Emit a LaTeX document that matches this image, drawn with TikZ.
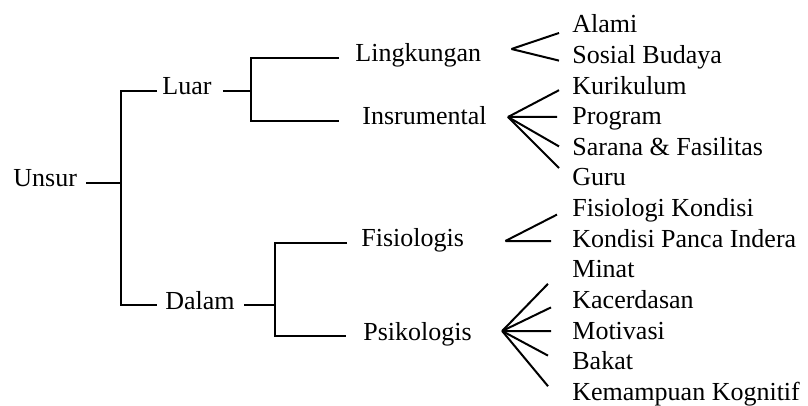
\documentclass[tikz,border=0pt]{standalone}
\usepackage{fontspec}
\setmainfont{Liberation Serif}
\begin{document}
\begin{tikzpicture}[x=0.5pt,y=-0.5pt,
	lbl/.style={anchor=base west,inner sep=0pt,text height=0.4em,text depth=0pt,
		font=\fontsize{13}{15}\selectfont},
	ln/.style={line width=1pt}]
	\useasboundingbox (0,0) rectangle (808,406);
	
	% left part of the tree
	\node[lbl] (unsur) at (13,187) {Unsur};
	\node[lbl] (luar) at (162,95) {Luar};
	\node[lbl] (dalam) at (165,309) {Dalam};
	\node[lbl] (ling) at (355,62) {Lingkungan};
	\node[lbl] (insr) at (362,125) {Insrumental};
	\node[lbl] (fisi) at (361,247) {Fisiologis};
	\node[lbl] (psik) at (363,340) {Psikologis};
	
	% right column
	\foreach \n/\t [count=\k from 0] in {alami/Alami, sosial/Sosial Budaya,
		kuri/Kurikulum, prog/Program, sarana/Sarana \& Fasilitas, guru/Guru,
		fkond/Fisiologi Kondisi, panca/Kondisi Panca Indera, minat/Minat,
		cerdas/Kacerdasan, motiv/Motivasi, bakat/Bakat, kogn/Kemampuan Kognitif}
	\node[lbl] (\n) at (572,33+30.6*\k) {\t};
	
	% brackets
	\coordinate (j1) at (121,183);
	\coordinate (j2) at (251,89);
	\coordinate (j3) at (275,300);
	\draw[ln] ([shift={(9,0)}]unsur.east) -- (unsur.east -| j1);
	\draw[ln] ([shift={(-5,0)}]luar.west) -| (j1) |- ([shift={(-8,0)}]dalam.west);
	\draw[ln] ([shift={(11,0)}]luar.east) -- (luar.east -| j2);
	\draw[ln] ([shift={(-16,0)}]ling.west) -| (j2) |- ([shift={(-23,0)}]insr.west);
	\draw[ln] ([shift={(9,0)}]dalam.east) -- (dalam.east -| j3);
	\draw[ln] ([shift={(-14,0)}]fisi.west) -| (j3) |- ([shift={(-17,0)}]psik.west);
	
	% fans
	\coordinate (tling) at ([shift={(30,-9)}]ling.east);
	\coordinate (tinsr) at ([shift={(21,-4)}]insr.east);
	\coordinate (tfisi) at ([shift={(41,-2)}]fisi.east);
	\coordinate (tpsik) at ([shift={(30,-5)}]psik.east);
	\foreach \n/\dx/\dy in {alami/-13/4, sosial/-13/1}
	\draw[ln] (tling) -- ([shift={(\dx,\dy)}]\n.west);
	\foreach \n/\dx/\dy in {kuri/-13/0, prog/-15/-4, sarana/-13/-5, guru/-13/-14}
	\draw[ln] (tinsr) -- ([shift={(\dx,\dy)}]\n.west);
	\foreach \n/\dx/\dy in {fkond/-15/2, panca/-21/-2}
	\draw[ln] (tfisi) -- ([shift={(\dx,\dy)}]\n.west);
	\foreach \n/\dx/\dy in {minat/-24/10, cerdas/-21/3, motiv/-21/-4, bakat/-24/-10, kogn/-24/-10}
	\draw[ln] (tpsik) -- ([shift={(\dx,\dy)}]\n.west);
\end{tikzpicture}
\end{document}
